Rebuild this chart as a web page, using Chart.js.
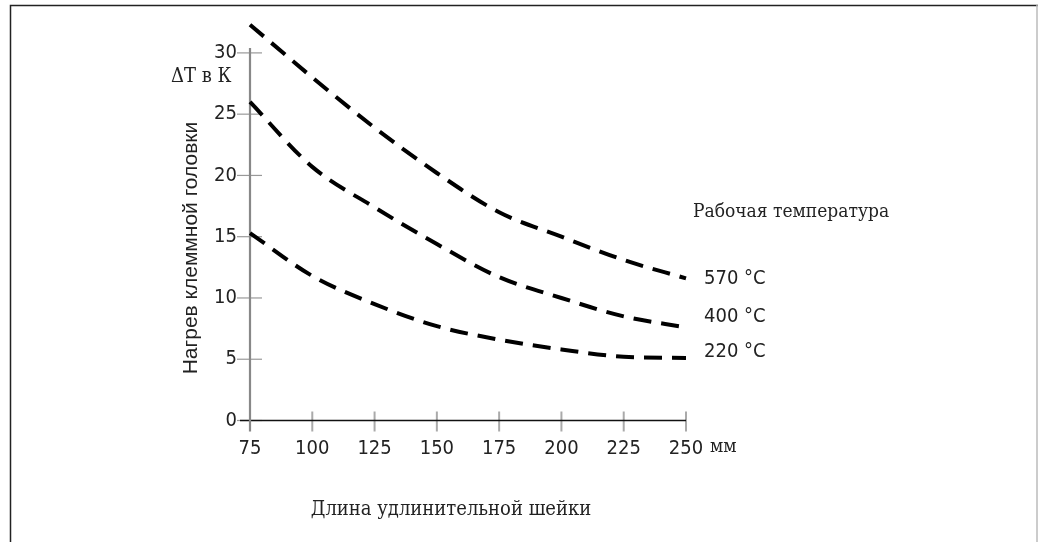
<!DOCTYPE html>
<html>
<head>
<meta charset="utf-8">
<script src="https://cdn.jsdelivr.net/npm/chart.js@4/dist/chart.umd.min.js"></script>
<style>
  html, body { margin: 0; padding: 0; background: #fff; }
  #wrap { width: 1038px; height: 542px; position: relative; }
</style>
</head>
<body>
<div id="wrap"><canvas id="c" width="1038" height="542"></canvas></div>
<script>
// neck length, mm
const lengths = [75, 100, 125, 150, 175, 200, 225, 250];
// terminal head heating, K
const heat570 = [32.3, 28.0, 23.9, 20.2, 17.0, 15.0, 13.1, 11.6];
const heat400 = [26.0, 20.7, 17.4, 14.4, 11.7, 10.0, 8.5, 7.6];
const heat220 = [15.3, 11.8, 9.5, 7.7, 6.6, 5.8, 5.2, 5.1];
const seriesLabels = ['570 °C', '400 °C', '220 °C'];

const xTicks = [75, 100, 125, 150, 175, 200, 225, 250];
const yTicks = [0, 5, 10, 15, 20, 25, 30];

const SANS = '"DejaVu Sans Condensed", "DejaVu Sans", sans-serif';
const SERIF = '"DejaVu Serif Condensed", "DejaVu Serif", serif';

function line(values){
  return {
    data: lengths.map((x, i) => ({ x, y: values[i] })),
    borderColor: '#000',
    borderWidth: 4,
    borderDash: [18, 10],
    pointRadius: 0,
    cubicInterpolationMode: 'monotone',
    fill: false,
    clip: false
  };
}

const decor = {
  id: 'decor',
  beforeDatasetsDraw(chart){
    const ctx = chart.ctx;
    const xs = chart.scales.x, ys = chart.scales.y;
    const x0 = xs.getPixelForValue(75), y0 = ys.getPixelForValue(0);
    ctx.save();
    // frame
    ctx.strokeStyle = '#222';
    ctx.lineWidth = 1.5;
    ctx.beginPath();
    ctx.moveTo(10.5, 542); ctx.lineTo(10.5, 5.5); ctx.lineTo(1038, 5.5);
    ctx.stroke();
    ctx.strokeStyle = '#bbb';
    ctx.beginPath(); ctx.moveTo(1037, 5); ctx.lineTo(1037, 542); ctx.stroke();

    // y ticks
    ctx.strokeStyle = '#999';
    ctx.lineWidth = 1.2;
    yTicks.forEach(v => {
      const y = ys.getPixelForValue(v);
      ctx.beginPath(); ctx.moveTo(x0 - 13, y); ctx.lineTo(x0 + 12, y); ctx.stroke();
    });
    // x ticks
    ctx.strokeStyle = '#aaa';
    ctx.lineWidth = 2;
    xTicks.slice(1).forEach(v => {
      const x = xs.getPixelForValue(v);
      ctx.beginPath(); ctx.moveTo(x, y0 - 9); ctx.lineTo(x, y0 + 11); ctx.stroke();
    });
    // x axis
    ctx.strokeStyle = '#111';
    ctx.lineWidth = 1.5;
    ctx.beginPath(); ctx.moveTo(x0 - 10, y0); ctx.lineTo(xs.getPixelForValue(250), y0); ctx.stroke();
    // y axis
    ctx.strokeStyle = '#888';
    ctx.lineWidth = 2.2;
    ctx.beginPath(); ctx.moveTo(x0, ys.getPixelForValue(30) - 5); ctx.lineTo(x0, y0 + 11); ctx.stroke();
    ctx.restore();
  },
  afterDraw(chart){
    const ctx = chart.ctx;
    const xs = chart.scales.x, ys = chart.scales.y;
    ctx.save();
    ctx.fillStyle = '#222';
    ctx.textBaseline = 'middle';

    ctx.font = '20px ' + SERIF;
    ctx.textAlign = 'left';
    ctx.fillText('ΔT в К', 171, 77);
    ctx.font = '19px ' + SERIF;
    ctx.fillText('Рабочая температура', 693, 212);
    ctx.font = '20px ' + SERIF;
    ctx.textAlign = 'center';
    ctx.fillText('Длина удлинительной шейки', 451, 510);
    ctx.textAlign = 'left';
    ctx.font = '19px ' + SERIF;
    ctx.fillText('мм', xs.getPixelForValue(250) + 24, 447);

    ctx.font = '20px ' + SANS;
    const ends = [heat570, heat400, heat220];
    const offs = [0, -11, -6];
    seriesLabels.forEach((t, i) => {
      const v = ends[i][ends[i].length - 1];
      ctx.fillText(t, 704, ys.getPixelForValue(v) + offs[i]);
    });

    ctx.translate(191, 248);
    ctx.rotate(-Math.PI / 2);
    ctx.textAlign = 'center';
    ctx.font = '21px "Liberation Sans", sans-serif';
    ctx.fillText('Нагрев клеммной головки', 0, 0);
    ctx.restore();
  }
};

new Chart(document.getElementById('c'), {
  type: 'line',
  data: { datasets: [line(heat570), line(heat400), line(heat220)] },
  plugins: [decor],
  options: {
    responsive: false,
    animation: false,
    layout: { padding: { left: 0, top: 48, right: 352, bottom: 0 } },
    plugins: { legend: { display: false }, tooltip: { enabled: false } },
    scales: {
      x: {
        type: 'linear', min: 75, max: 250,
        grid: { display: false, drawTicks: false },
        border: { display: false },
        afterBuildTicks: s => { s.ticks = xTicks.map(v => ({ value: v })); },
        afterFit: s => { s.height = 121.5; },
        ticks: { color: '#222', font: { family: SANS, size: 20 }, padding: 16, maxRotation: 0 }
      },
      y: {
        type: 'linear', min: 0, max: 30.4,
        grid: { display: false, drawTicks: false },
        border: { display: false },
        afterBuildTicks: s => { s.ticks = yTicks.map(v => ({ value: v })); },
        afterFit: s => { s.width = 250; },
        ticks: { color: '#222', font: { family: SANS, size: 20 }, padding: 13 }
      }
    }
  }
});
</script>
</body>
</html>
